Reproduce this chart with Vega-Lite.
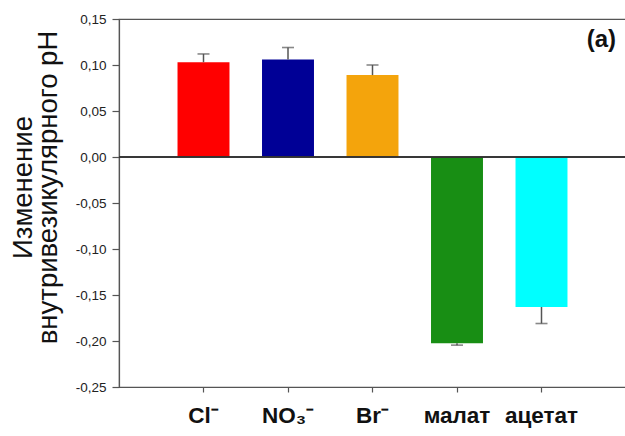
{
  "$schema": "https://vega.github.io/schema/vega-lite/v6.json",
  "autosize": {"type": "none"},
  "padding": {"left": 119, "top": 19, "right": 0, "bottom": 49},
  "width": 507,
  "height": 368,
  "background": "white",
  "config": {
    "font": "Liberation Sans",
    "view": {"stroke": "#555555", "strokeWidth": 1.2}
  },
  "title": {
    "text": "(a)",
    "orient": "top",
    "anchor": "end",
    "frame": "group",
    "offset": -64,
    "dx": -10,
    "baseline": "bottom",
    "fontSize": 24,
    "fontWeight": "bold",
    "color": "#111111",
    "font": "Liberation Sans"
  },
  "data": {
    "values": [
      {"ion": "Cl⁻", "value": 0.103, "err": 0.112, "c": "#FF0000"},
      {"ion": "NO₃⁻", "value": 0.106, "err": 0.119, "c": "#000096"},
      {"ion": "Br⁻", "value": 0.089, "err": 0.100, "c": "#F4A40C"},
      {"ion": "малат", "value": -0.2025, "err": -0.2045, "c": "#188E14"},
      {"ion": "ацетат", "value": -0.163, "err": -0.181, "c": "#00FFFF"}
    ]
  },
  "encoding": {
    "x": {
      "field": "ion",
      "type": "nominal",
      "sort": null,
      "scale": {"paddingInner": 0.385, "paddingOuter": 0.6925},
      "axis": {
        "title": null,
        "labelAngle": 0,
        "labelFont": "Liberation Sans",
        "labelFontSize": 22.5,
        "labelFontWeight": "bold",
        "labelColor": "#111111",
        "labelPadding": 12,
        "domainColor": "#555555",
        "domainWidth": 1.2,
        "tickColor": "#555555",
        "tickSize": 5,
        "tickWidth": 1.2
      }
    }
  },
  "layer": [
    {
      "mark": {"type": "bar"},
      "encoding": {
        "y": {
          "field": "value",
          "type": "quantitative",
          "scale": {"domain": [-0.25, 0.15], "nice": false, "zero": false},
          "axis": {
            "values": [-0.25, -0.2, -0.15, -0.1, -0.05, 0, 0.05, 0.1, 0.15],
            "labelExpr": "replace(replace(format(datum.value, '.2f'), '.', ','), '−', '-')",
            "labelFont": "Liberation Sans",
            "labelFontSize": 13.5,
            "labelColor": "#222222",
            "labelPadding": 6,
            "tickSize": 7,
            "tickColor": "#555555",
            "tickWidth": 1.2,
            "domainColor": "#555555",
            "domainWidth": 1.2,
            "grid": false,
            "title": ["Изменение", "внутривезикулярного pH"],
            "titleFont": "Liberation Sans",
            "titleFontSize": 27.5,
            "titleFontWeight": "normal",
            "titleColor": "#111111",
            "titleLineHeight": 25,
            "titleAngle": -90,
            "titleAlign": "center",
            "titleBaseline": "top",
            "titleX": -110,
            "titleY": 168
          }
        },
        "color": {"field": "c", "type": "nominal", "scale": null, "legend": null}
      }
    },
    {
      "mark": {"type": "rule", "color": "#333333", "strokeWidth": 1.2},
      "encoding": {"y": {"datum": 0}, "x": null}
    },
    {
      "mark": {"type": "rule", "color": "#555555", "strokeWidth": 1.5},
      "encoding": {
        "y": {"field": "value", "type": "quantitative"},
        "y2": {"field": "err"}
      }
    },
    {
      "mark": {"type": "tick", "orient": "horizontal", "color": "#555555", "size": 12, "thickness": 1.6},
      "encoding": {
        "y": {"field": "err", "type": "quantitative"}
      }
    }
  ]
}
